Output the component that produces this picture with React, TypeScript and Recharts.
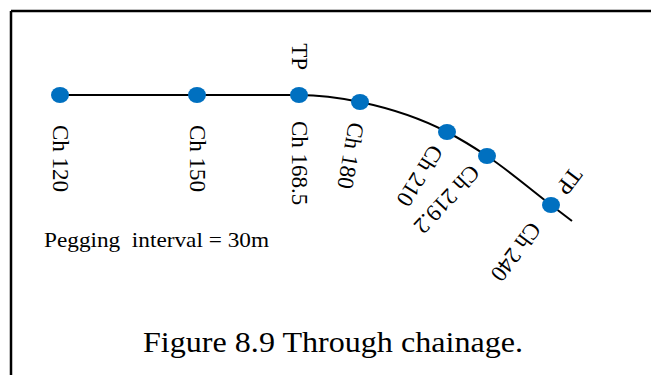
import React from "react";
import { ComposedChart, Line, Scatter, XAxis, YAxis, Customized } from "recharts";

// Peg stations along the alignment (diagram units)
const pegLabels = ["Ch 120", "Ch 150", "Ch 168.5", "Ch 180", "Ch 210", "Ch 219.2", "Ch 240"];
const pegX = [60, 197, 299, 360, 447, 487, 551];
const pegY = [95, 95, 95, 102, 132, 156, 205];
const tpFlags = [false, false, true, false, false, false, true];
// alignment continues a little past the last peg
const endX = 572;
const endY = 221;

const titleText = "Figure 8.9 Through chainage.";
const noteText = "Pegging  interval = 30m";

const pegData = pegLabels.map((label, i) => ({ x: pegX[i], y: pegY[i], label, tp: tpFlags[i] }));
const lineData = [...pegX.map((x, i) => ({ x, y: pegY[i] })), { x: endX, y: endY }];

// label layout (rotation / gap from peg), style only
const labelAngle = [90, 90, 90, 100, 122, 133, 127];
const labelGap = [30, 30, 26, 21, 18, 17, 25];
const tpGap = [0, 0, 25, 0, 0, 0, 30];

const FONT = "Liberation Serif";
const fontStyle: React.CSSProperties = { fontFamily: "'Liberation Serif', 'Times New Roman', Times, serif" };

const PegShape = (props: any) => {
  const { cx, cy, payload } = props;
  const i = pegLabels.indexOf(payload.label);
  const a = labelAngle[i];
  return (
    <g>
      <ellipse cx={cx} cy={cy} rx={9} ry={8} fill="#0070C0" />
      <g transform={`translate(${cx},${cy}) rotate(${a})`}>
        <text x={labelGap[i]} y={0} dominantBaseline="central" textAnchor="start" fontFamily={FONT} style={fontStyle} fontSize={23} fill="#000">
          {payload.label}
        </text>
        {payload.tp ? (
          <text x={-tpGap[i]} y={0} dominantBaseline="central" textAnchor={i === 2 ? "end" : "middle"} fontFamily={FONT} style={fontStyle} fontSize={23} fill="#000">
            TP
          </text>
        ) : null}
      </g>
    </g>
  );
};

const Frame = () => (
  <g>
    <line x1={11} y1={11} x2={651} y2={11} stroke="#000" strokeWidth={2.5} />
    <line x1={11} y1={11} x2={11} y2={375} stroke="#000" strokeWidth={2.5} />
    <text x={44} y={247} fontFamily={FONT} fontSize={21} textLength={225} lengthAdjust="spacingAndGlyphs" fill="#000" style={{ ...fontStyle, whiteSpace: "pre" }}>
      {noteText}
    </text>
    <text x={143} y={352} fontFamily={FONT} fontSize={29} textLength={380} lengthAdjust="spacingAndGlyphs" fill="#000" style={fontStyle}>
      {titleText}
    </text>
  </g>
);

export default function App() {
  return (
    <div style={{ position: "absolute", left: 0, top: 0, width: 651, height: 375, background: "#fff" }}>
      <ComposedChart width={651} height={375} data={lineData} margin={{ top: 0, right: 0, bottom: 0, left: 0 }} accessibilityLayer={false}>
        <XAxis type="number" dataKey="x" domain={[0, 651]} hide />
        <YAxis type="number" dataKey="y" domain={[0, 375]} reversed hide />
        <Customized component={Frame} />
        <Line type="monotone" dataKey="y" stroke="#000" strokeWidth={2} dot={false} activeDot={false} isAnimationActive={false} />
        <Scatter data={pegData} dataKey="y" shape={PegShape} activeShape={PegShape} isAnimationActive={false} />
      </ComposedChart>
    </div>
  );
}
